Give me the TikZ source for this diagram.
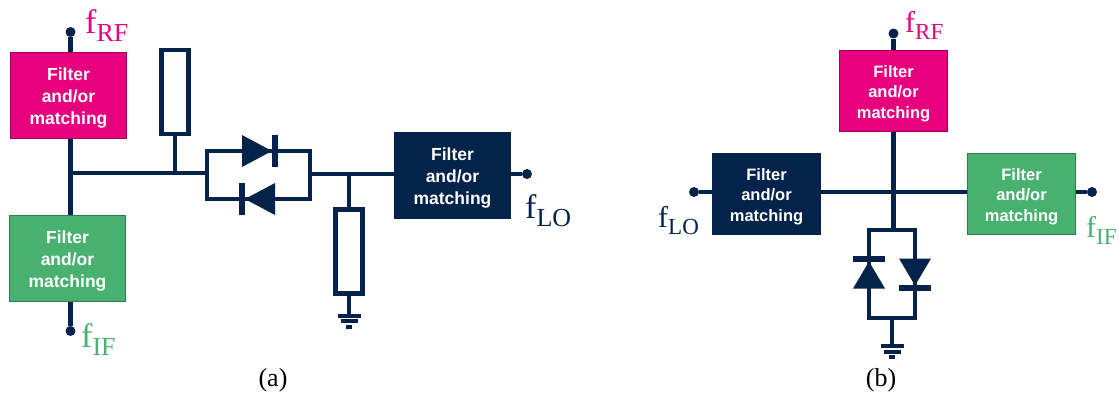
\documentclass[tikz,border=0pt]{standalone}
\usepackage{fontspec}
\setmainfont{Liberation Serif}
\newfontfamily\boxfont{Liberation Sans}
\usetikzlibrary{positioning}
\definecolor{navy}{HTML}{03234B}
\definecolor{rfpink}{HTML}{E6007E}
\definecolor{rfedge}{HTML}{A00058}
\definecolor{ifgreen}{HTML}{49B170}
\definecolor{ifedge}{HTML}{2F7D4E}
\newcommand{\flabel}[3]{\fontsize{#1}{#1}\selectfont f\raisebox{-.33\dimexpr#2pt\relax}{\fontsize{#2}{#2}\selectfont #3}}
\newcommand{\boxtext}{\rule{0pt}{1.05em}Filter\\and/or\\matching}
\tikzstyle{block}=[draw,rectangle,line width=1pt,text=white,align=center,font=\boxfont\bfseries\fontsize{17.5}{22}\selectfont,minimum width=116pt,minimum height=86pt]
\tikzstyle{blockb}=[block,font=\boxfont\bfseries\fontsize{16.5}{20.4}\selectfont,minimum width=108pt,minimum height=81pt]
\tikzstyle{wire}=[draw=navy,line width=4.2pt]
\tikzstyle{load}=[wire,rectangle,minimum width=27pt,minimum height=84pt]
\tikzstyle{dot}=[circle,fill=navy,inner sep=0pt,outer sep=0pt,minimum size=10pt]
\tikzstyle{freq}=[anchor=base west,inner sep=0pt]
\tikzstyle{caption}=[anchor=base,inner sep=0pt,font=\fontsize{26}{26}\selectfont]
\tikzset{
  diode/.pic={
    \fill[navy] (-15,-16) -- (15,0) -- (-15,16) -- cycle;
    \draw[navy,line width=6pt] (18,-16) -- (18,16);
  },
  ground/.pic={
    \draw[navy,line width=4pt] (-11.5,0) -- (11.5,0);
    \draw[navy,line width=4pt] (-8.5,5.7) -- (8.5,5.7);
    \draw[navy,line width=4pt] (-3,11) -- (3,11);
  }
}

\begin{document}
\begin{tikzpicture}[x=1pt,y=-1pt,node distance=163pt]
    \useasboundingbox (0,0) rectangle (1118,392);

    % panel a
    \node[block,fill=rfpink,draw=rfedge] (rfa) at (68.5,95) {\boxtext};
    \node[block,fill=ifgreen,draw=ifedge,below of=rfa,xshift=-1pt] (ifa) {\boxtext};
    \node[block,fill=navy,draw=navy] (loa) at (452.5,175.5) {\boxtext};
    \node[dot] (dotrfa) at (70.5,32) {};
    \node[dot] (dotifa) at (70.5,331) {};
    \node[dot] (dotloa) at (527,174) {};
    \coordinate (juncta) at (70.5,173);
    \node[load] (loadtop) at (175,92) {};
    \node[load] (loadbot) at (349,251.5) {};
    \node[wire,rectangle,minimum width=103pt,minimum height=48pt] (loopa) at (258.5,175) {};
    \draw[wire] (dotrfa) -- (dotrfa |- rfa.north);
    \draw[wire] (juncta |- rfa.south) -- (juncta |- ifa.north);
    \draw[wire] (juncta |- ifa.south) -- (dotifa);
    \draw[wire] (juncta) -- (juncta -| loopa.west);
    \draw[wire] (loadtop.south) -- (loadtop.south |- juncta);
    \draw[wire] (loopa.east |- dotloa) -- (loa.west |- dotloa);
    \draw[wire] (loadbot.north) -- (loadbot.north |- dotloa);
    \draw[wire] (loa.east |- dotloa) -- (dotloa);
    \draw[wire] (loadbot.south) -- ++(0,20) coordinate (gnda);
    \pic at (257,151) {diode};
    \pic[rotate=180] at (260,199) {diode};
    \pic at (gnda) {ground};
    \node[freq,text=rfpink] (frfa) at (85,33) {\flabel{34}{26}{RF}};
    \node[freq,text=ifgreen] (fifa) at (81,347) {\flabel{34}{26}{IF}};
    \node[freq,text=navy] (floa) at (525,218) {\flabel{34}{26}{LO}};
    \node[caption] (capa) at (273,386) {(a)};

    % panel b
    \node[blockb,fill=rfpink,draw=rfedge] (rfb) at (893.5,91) {\boxtext};
    \node[blockb,fill=navy,draw=navy] (lob) at (766.5,194) {\boxtext};
    \node[blockb,fill=ifgreen,draw=ifedge,right of=lob,node distance=255pt] (ifb) {\boxtext};
    \node[dot] (dotrfb) at (893.5,33.5) {};
    \node[dot] (dotlob) at (694,192) {};
    \node[dot] (dotifb) at (1092,192) {};
    \node[wire,rectangle,minimum width=46pt,minimum height=88pt] (loopb) at (892,274) {};
    \draw[wire] (dotrfb) -- (rfb.north);
    \draw[wire] (rfb.south) -- (rfb.south |- loopb.north);
    \draw[wire] (dotlob) -- (lob.west |- dotlob);
    \draw[wire] (lob.east |- dotlob) -- (ifb.west |- dotlob);
    \draw[wire] (ifb.east |- dotifb) -- (dotifb);
    \draw[wire] (loopb.south) -- ++(0,26) coordinate (gndb);
    \pic[rotate=90,xscale=.9] at (869,275) {diode};
    \pic[rotate=-90,xscale=.9] at (915,272) {diode};
    \pic at (gndb) {ground};
    \node[freq,text=rfpink] (frfb) at (905,32) {\flabel{30}{23}{RF}};
    \node[freq,text=navy] (flob) at (658,227) {\flabel{30}{23}{LO}};
    \node[freq,text=ifgreen] (fifb) at (1086,237) {\flabel{30}{23}{IF}};
    \node[caption] (capb) at (881,386) {(b)};
\end{tikzpicture}
\end{document}
